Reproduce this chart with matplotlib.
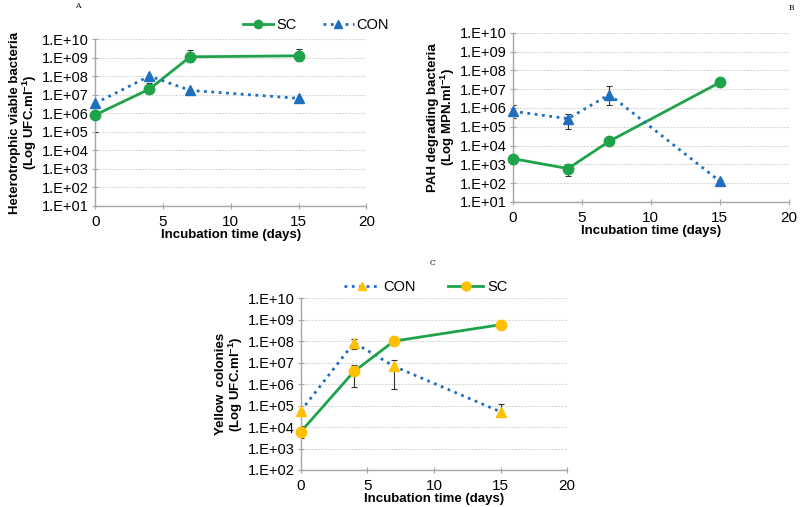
import numpy as np
import matplotlib
matplotlib.use('Agg')
import matplotlib.pyplot as plt
from matplotlib.ticker import FixedLocator, FuncFormatter

plt.rcParams['font.family'] = ['Liberation Sans', 'DejaVu Sans']
plt.rcParams['mathtext.fontset'] = 'custom'
plt.rcParams['mathtext.rm'] = 'Liberation Sans'
plt.rcParams['mathtext.default'] = 'regular'

# 数据
days = [0, 4, 7, 15]

# A: 异养菌
a_sc = [8.0e5, 2.0e7, 1.1e9, 1.25e9]
a_sc_lo = [1.0e5, 1.3e7, 6.0e8, 6.5e8]
a_sc_hi = [2.5e6, 4.0e7, 2.6e9, 2.9e9]
a_con = [3.4e6, 1.0e8, 1.7e7, 6.3e6]

# B: PAH 降解菌
b_sc = [2.0e3, 5.9e2, 1.7e4, 2.3e7]
b_sc_lo = [1.6e3, 2.4e2, 1.4e4, 2.0e7]
b_sc_hi = [2.5e3, 1.0e3, 2.1e4, 2.7e7]
b_con = [6.7e5, 2.7e5, 5.2e6, 1.25e2]
b_con_lo = [3.0e5, 7.4e4, 1.5e6, 1.1e2]
b_con_hi = [1.4e6, 5.0e5, 1.5e7, 1.4e2]

# C: 黄色菌落
c_sc = [6.0e3, 3.9e6, 1.0e8, 5.8e8]
c_sc_lo = [3.2e3, 7.4e5, 9.0e7, 5.5e8]
c_sc_hi = [1.1e4, 7.4e6, 1.1e8, 6.1e8]
c_con = [5.6e4, 8.5e7, 6.7e6, 5.1e4]
c_con_lo = [5.0e4, 4.5e7, 6.2e5, 3.2e4]
c_con_hi = [6.2e4, 1.3e8, 1.26e7, 1.23e5]

GREEN = '#1fa34a'
BLUE = '#1f6fbf'
YELLOW = '#ffc000'
GRID = '#d9d9d9'
SPINE = '#a6a6a6'


def fmt_sci(v, pos):
    return '1.E+%02d' % int(round(np.log10(v)))


def style_axes(ax, ymin_exp, ylabel):
    ax.set_yscale('log')
    ax.set_ylim(10.0 ** ymin_exp, 1e10)
    ax.set_xlim(0, 20)
    ax.set_xticks([0, 5, 10, 15, 20])
    ax.yaxis.set_major_locator(FixedLocator([10.0 ** e for e in range(ymin_exp, 11)]))
    ax.yaxis.set_major_formatter(FuncFormatter(fmt_sci))
    ax.yaxis.set_minor_locator(FixedLocator([]))
    ax.grid(axis='y', color=GRID, linewidth=0.8, linestyle=(0, (2, 1)))
    ax.set_axisbelow(True)
    for s in ['top', 'right']:
        ax.spines[s].set_visible(False)
    for s in ['left', 'bottom']:
        ax.spines[s].set_color(SPINE)
        ax.spines[s].set_linewidth(1.0)
    ax.tick_params(axis='y', direction='inout', length=5, color=SPINE, labelsize=10.5, pad=2)
    ax.tick_params(axis='x', direction='inout', length=5, color=SPINE, labelsize=11, pad=4)
    ax.set_xlabel('Incubation time (days)', fontsize=9.5, fontweight='bold', labelpad=0)
    ax.set_ylabel(ylabel, fontsize=9.5, fontweight='bold', labelpad=2, linespacing=1.0)


def plot_series(ax, y, lo, hi, color, ls, marker, ms, lw, label, mcolor=None):
    y = np.array(y)
    mcolor = mcolor or color
    line, = ax.plot(days, y, color=color, linestyle=ls, marker=marker, markersize=ms,
                    markerfacecolor=mcolor, markeredgecolor=mcolor,
                    linewidth=lw, label=label, zorder=3, clip_on=False)
    if lo is not None:
        yerr = [y - np.array(lo), np.array(hi) - y]
        ax.errorbar(days, y, yerr=yerr, fmt='none', ecolor='#333333', elinewidth=0.8,
                    capsize=2.5, capthick=0.8, zorder=2)
    return line


fig = plt.figure(figsize=(8, 5.07), dpi=100)

# A
axA = fig.add_axes([0.119, 0.594, 0.339, 0.329])
style_axes(axA, 1, 'Heterotrophic viable bacteria\n(Log UFC.ml$^{-1}$)')
plot_series(axA, a_sc, a_sc_lo, a_sc_hi, GREEN, '-', 'o', 7.5, 2.0, 'SC')
plot_series(axA, a_con, None, None, BLUE, ':', '^', 7, 2.0, 'CON')
axA.legend(loc='lower right', bbox_to_anchor=(1.11, 1.0), ncol=2, frameon=False,
           fontsize=10.5, handlelength=2.1, columnspacing=1.8, handletextpad=0.2,
           borderaxespad=0.1, markerscale=0.8)
fig.text(78 / 800, 1 - 6 / 507, 'A', family='DejaVu Serif', fontsize=5.5, va='center', ha='center')

# B
axB = fig.add_axes([0.641, 0.602, 0.345, 0.333])
style_axes(axB, 1, 'PAH degrading bacteria\n(Log MPN.ml$^{-1}$)')
plot_series(axB, b_sc, b_sc_lo, b_sc_hi, GREEN, '-', 'o', 7.5, 2.0, 'SC')
plot_series(axB, b_con, b_con_lo, b_con_hi, BLUE, ':', '^', 7, 2.0, 'CON')
fig.text(791 / 800, 1 - 8 / 507, 'B', family='DejaVu Serif', fontsize=5.5, va='center', ha='center')

# C
axC = fig.add_axes([0.376, 0.073, 0.333, 0.339])
style_axes(axC, 2, 'Yellow  colonies\n(Log UFC.ml$^{-1}$)')
plot_series(axC, c_con, c_con_lo, c_con_hi, BLUE, ':', '^', 7, 2.0, 'CON', YELLOW)
plot_series(axC, c_sc, c_sc_lo, c_sc_hi, GREEN, '-', 'o', 7.5, 2.0, 'SC', YELLOW)
axC.legend(loc='lower center', bbox_to_anchor=(0.47, 0.98), ncol=2, frameon=False,
           fontsize=10.5, handlelength=2.4, columnspacing=2.2, handletextpad=0.3,
           borderaxespad=0.1, markerscale=0.85)
fig.text(433 / 800, 1 - 263 / 507, 'C', family='DejaVu Serif', fontsize=5.5, va='center', ha='center')

fig.savefig('out.png', dpi=100)
